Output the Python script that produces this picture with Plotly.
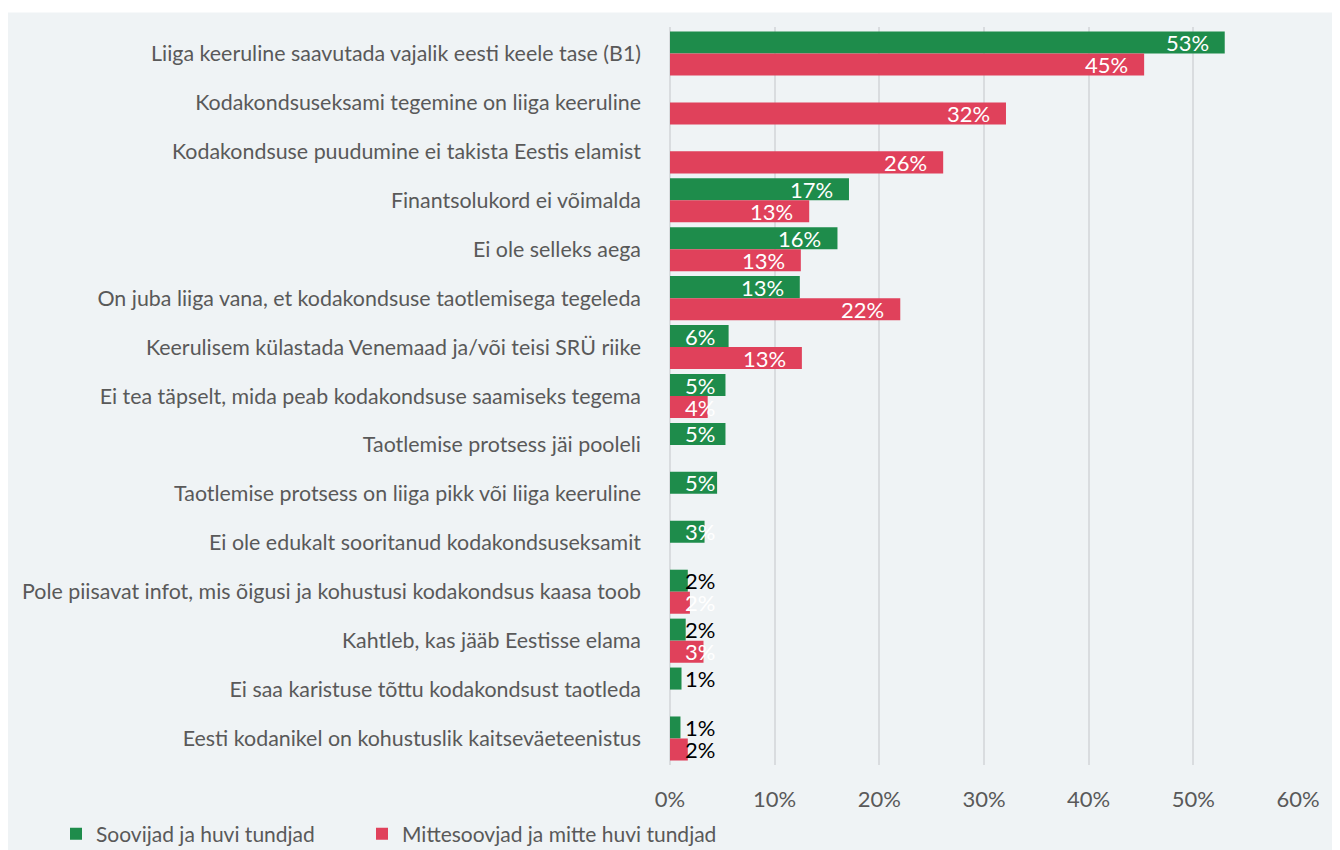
import plotly.graph_objects as go

categories = [
    "Liiga keeruline saavutada vajalik eesti keele tase (B1)",
    "Kodakondsuseksami tegemine on liiga keeruline",
    "Kodakondsuse puudumine ei takista Eestis elamist",
    "Finantsolukord ei võimalda",
    "Ei ole selleks aega",
    "On juba liiga vana, et kodakondsuse taotlemisega tegeleda",
    "Keerulisem külastada Venemaad ja/või teisi SRÜ riike",
    "Ei tea täpselt, mida peab kodakondsuse saamiseks tegema",
    "Taotlemise protsess jäi pooleli",
    "Taotlemise protsess on liiga pikk või liiga keeruline",
    "Ei ole edukalt sooritanud kodakondsuseksamit",
    "Pole piisavat infot, mis õigusi ja kohustusi kodakondsus kaasa toob",
    "Kahtleb, kas jääb Eestisse elama",
    "Ei saa karistuse tõttu kodakondsust taotleda",
    "Eesti kodanikel on kohustuslik kaitseväeteenistus",
]
soovijad = [53.0, None, None, 17.1, 16.0, 12.4, 5.6, 5.3, 5.3, 4.5, 3.3, 1.7, 1.5, 1.1, 1.0]
soovijad_labels = ["53%", None, None, "17%", "16%", "13%", "6%", "5%", "5%", "5%", "3%", "2%", "2%", "1%", "1%"]
mittesoovijad = [45.3, 32.1, 26.1, 13.3, 12.5, 22.0, 12.6, 3.6, None, None, None, 1.9, 3.2, None, 1.7]
mittesoovijad_labels = ["45%", "32%", "26%", "13%", "13%", "22%", "13%", "4%", None, None, None, "2%", "3%", None, "2%"]
series_names = ["Soovijad ja huvi tundjad", "Mittesoovjad ja mitte huvi tundjad"]
x_ticks = [0, 10, 20, 30, 40, 50, 60]
x_tick_labels = ["0%", "10%", "20%", "30%", "40%", "50%", "60%"]

# label colours (white inside bar, black when it spills outside)
soovijad_label_colors = ["white"] * 11 + ["black", "black", "black", "black"]
mitte_label_colors = ["white"] * 11 + ["white", "white", "white", "black"]

GREEN = "#1e8c4b"
RED = "#e0415b"
BG = "#eff3f5"
TXT = "#595959"
FONT = "Lato, Noto Sans, sans-serif"
FS = 22

fig = go.Figure()
fig.add_trace(go.Bar(y=categories, x=soovijad, orientation="h", name=series_names[0],
                     marker=dict(color=GREEN, line=dict(width=0)), legend="legend"))
fig.add_trace(go.Bar(y=categories, x=mittesoovijad, orientation="h", name=series_names[1],
                     marker=dict(color=RED, line=dict(width=0)), legend="legend2"))

MIN_LABEL_X = 5.83
annotations = []
for vals, labs, cols, shift in [(soovijad, soovijad_labels, soovijad_label_colors, 11),
                                (mittesoovijad, mittesoovijad_labels, mitte_label_colors, -11)]:
    for cat, v, lab, col in zip(categories, vals, labs, cols):
        if v is None:
            continue
        annotations.append(dict(x=max(v, MIN_LABEL_X), y=cat, text=lab, showarrow=False,
                                xanchor="right", yanchor="middle", xshift=-14, yshift=shift,
                                font=dict(color=col, size=FS, family=FONT)))

W, H = 1332, 842
leg_common = dict(orientation="h", xref="container", yref="container",
                  xanchor="left", yanchor="middle", y=(H - 826) / H,
                  font=dict(size=21, color=TXT), bgcolor="rgba(0,0,0,0)", itemwidth=30)

fig.update_layout(
    width=W, height=H,
    barmode="group", bargap=0.1, bargroupgap=0,
    paper_bgcolor=BG, plot_bgcolor=BG,
    margin=dict(l=662, r=42, t=19.4, b=85, autoexpand=False),
    font=dict(family=FONT, size=FS, color=TXT),
    showlegend=True,
    legend=dict(x=48 / W, **leg_common),
    legend2=dict(x=354 / W, **leg_common),
    annotations=annotations,
    shapes=[dict(type="rect", xref="paper", yref="paper", x0=-1.2, x1=1.2, y0=1.0195, y1=1.2,
                 fillcolor="white", line=dict(width=0), layer="below")],
)
fig.update_xaxes(range=[0, 60], tickvals=x_ticks, ticktext=x_tick_labels,
                 showgrid=True, gridcolor="#d9dcdf", gridwidth=2,
                 zeroline=True, zerolinecolor="#d9dcdf", zerolinewidth=2, automargin=False,
                 ticklabelstandoff=19, tickfont=dict(size=FS, color=TXT), fixedrange=True)
fig.update_yaxes(autorange="reversed", showgrid=False, ticklabelstandoff=28, automargin=False,
                 tickfont=dict(size=21.4, color=TXT), fixedrange=True)

fig.write_html("out.html")
